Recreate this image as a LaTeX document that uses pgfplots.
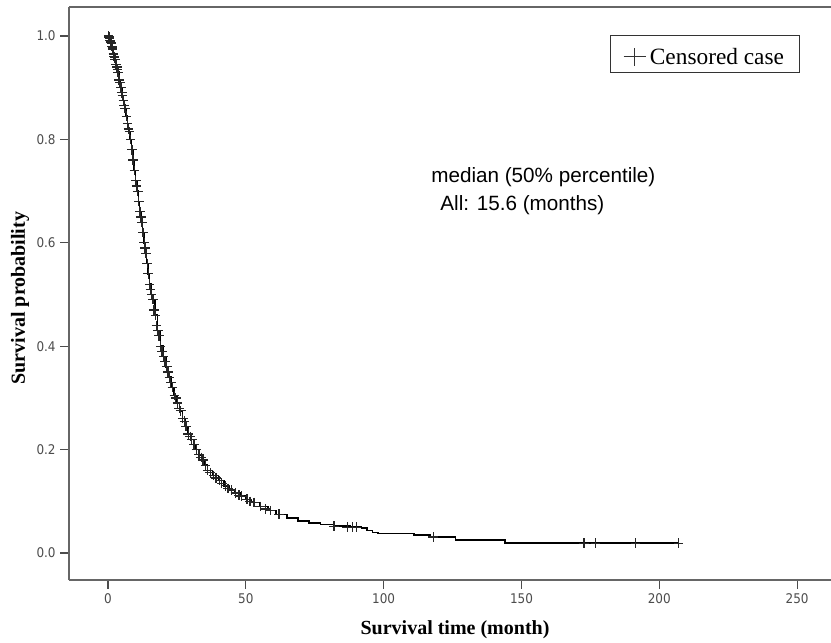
\documentclass[border=0pt]{standalone}
\usepackage{fontspec}
\setmainfont{Liberation Serif}
\newfontfamily\tickfont{DejaVu Sans Condensed}
\newfontfamily\arialfont{Liberation Sans}
\usepackage{pgfplots}
\pgfplotsset{compat=1.18}

\pgfplotstableread{
x y
0 1.000
0.5 0.995
1 0.985
1.5 0.975
2 0.965
2.5 0.955
3 0.94
3.5 0.93
4 0.915
4.5 0.90
5 0.885
5.5 0.875
6 0.86
6.5 0.845
7 0.83
7.5 0.815
8 0.80
8.5 0.78
9 0.76
9.5 0.74
10 0.72
10.5 0.70
11 0.68
11.5 0.66
12 0.64
12.5 0.62
13 0.60
13.5 0.58
14 0.56
14.5 0.54
15 0.52
15.6 0.50
16 0.49
17 0.46
18 0.43
19 0.40
20 0.38
21 0.36
22 0.34
23 0.32
24 0.305
25 0.29
26 0.275
27 0.26
28 0.245
29 0.23
30 0.22
31 0.21
32 0.20
33 0.19
34 0.18
35 0.17
36 0.16
38 0.15
40 0.14
42 0.13
44 0.122
46 0.116
48 0.11
50 0.104
52 0.098
55 0.09
58 0.082
61 0.075
65 0.068
69 0.062
73 0.058
77 0.055
82 0.052
88 0.05
92 0.048
94 0.044
96 0.04
98 0.038
111 0.035
117 0.031
126 0.025
144 0.019
207 0.019
}\kmcurve

\pgfplotstableread{
x y
0.2 1.0
0.4 0.998
0.6 0.995
0.8 0.992
0.9 0.99
1.1 0.987
1.2 0.985
1.4 0.98
1.6 0.977
1.7 0.975
2.0 0.965
2.2 0.96
2.4 0.958
2.6 0.955
2.9 0.945
3.2 0.94
3.4 0.935
3.6 0.93
4.0 0.915
4.3 0.91
4.7 0.90
5.0 0.89
5.2 0.885
5.6 0.875
5.9 0.865
6.2 0.86
6.7 0.845
7.1 0.83
7.4 0.82
7.8 0.815
8.2 0.80
8.7 0.78
9.1 0.76
9.6 0.74
10.1 0.72
10.4 0.71
10.8 0.70
11.2 0.68
11.6 0.66
11.9 0.65
12.3 0.64
12.7 0.62
13.1 0.60
13.4 0.59
13.8 0.58
14.2 0.56
14.6 0.54
15.1 0.52
15.4 0.51
15.8 0.50
16.3 0.49
16.7 0.47
17.2 0.46
17.6 0.44
18.1 0.43
18.5 0.42
19.1 0.40
19.6 0.39
20.2 0.38
20.7 0.37
21.3 0.36
21.8 0.35
22.3 0.34
22.8 0.33
23.4 0.32
24.1 0.305
24.6 0.30
25.2 0.29
25.8 0.28
26.4 0.275
27.1 0.26
27.7 0.255
28.3 0.245
29.1 0.23
29.8 0.225
30.4 0.22
31.2 0.21
32.1 0.20
33.0 0.19
33.8 0.185
34.5 0.18
35.3 0.17
36.2 0.16
37.1 0.155
38.4 0.15
39.2 0.145
40.5 0.14
41.3 0.135
42.6 0.13
43.5 0.125
44.8 0.122
46.2 0.116
47.5 0.112
48.3 0.11
50.4 0.104
51.5 0.10
53.0 0.098
55.2 0.09
57.0 0.085
59.0 0.082
62.0 0.075
82.0 0.052
86.8 0.05
88.6 0.05
90.2 0.05
118 0.031
172.7 0.019
176.8 0.019
191.4 0.019
207 0.019
}\censored

\begin{document}
\begin{tikzpicture}
\begin{axis}[
  scale only axis, width=571.5pt, height=429.75pt,
  xmin=-14.15, xmax=262.3, ymin=-0.0522, ymax=1.0561,
  axis x line*=box, axis y line*=left,
  axis line style={draw=black!60, line width=1.1pt},
  xtick={0,50,...,250}, ytick={0,0.2,0.4,0.6,0.8,1.0},
  xtick pos=bottom, tick align=outside, major tick length=6.5pt,
  tick style={draw=black!70, line width=0.9pt},
  /pgf/number format/assume math mode=true,
  yticklabel style={/pgf/number format/fixed, /pgf/number format/fixed zerofill, /pgf/number format/precision=1},
  tick label style={font=\tickfont\fontsize{10}{12}\selectfont, text=black!70},
  xlabel={Survival time (month)}, ylabel={Survival probability},
  label style={font=\bfseries\fontsize{15}{17}\selectfont},
  xlabel style={at={(axis description cs:0.5066,-0.0873)}, anchor=center},
  ylabel style={at={(axis description cs:-0.0643,0.492)}, anchor=center},
]
\addplot[const plot, black, line width=1.1pt, mark=none] table {\kmcurve};
\addplot[only marks, mark=+, mark size=3.6pt, black!85, mark options={line width=0.9pt}] table {\censored};
\node[anchor=base west, font=\arialfont\fontsize{15.5}{20}\selectfont] at (axis cs:115.6,0.716) {median (50\% percentile)};
\node[anchor=base west, font=\arialfont\fontsize{15.5}{20}\selectfont] at (axis cs:118.9,0.663) {All: 15.6 (months)};
\node[draw=black!80, line width=1pt, anchor=north east, inner sep=0pt,
  minimum height=27.75pt, minimum width=141.75pt] (leg) at (rel axis cs:0.9593,0.951) {};
\coordinate (bl) at (rel axis cs:0,0);
\coordinate (tr) at (rel axis cs:1,1);
\end{axis}
\node[anchor=west, inner sep=0pt, font=\fontsize{17.5}{20}\selectfont] at ([xshift=30pt,yshift=-1.5pt]leg.west) {Censored case};
\draw[black!80, line width=0.5pt] ([xshift=18.75pt,yshift=-8.5pt]leg.west) -- ++(0pt,13.5pt)
  ([xshift=10.5pt,yshift=-1.75pt]leg.west) -- ++(16.5pt,0pt);
\pgfresetboundingbox
\path ([xshift=-51.75pt,yshift=-46.5pt]bl) rectangle ([yshift=5.25pt]tr);
\end{tikzpicture}
\end{document}
